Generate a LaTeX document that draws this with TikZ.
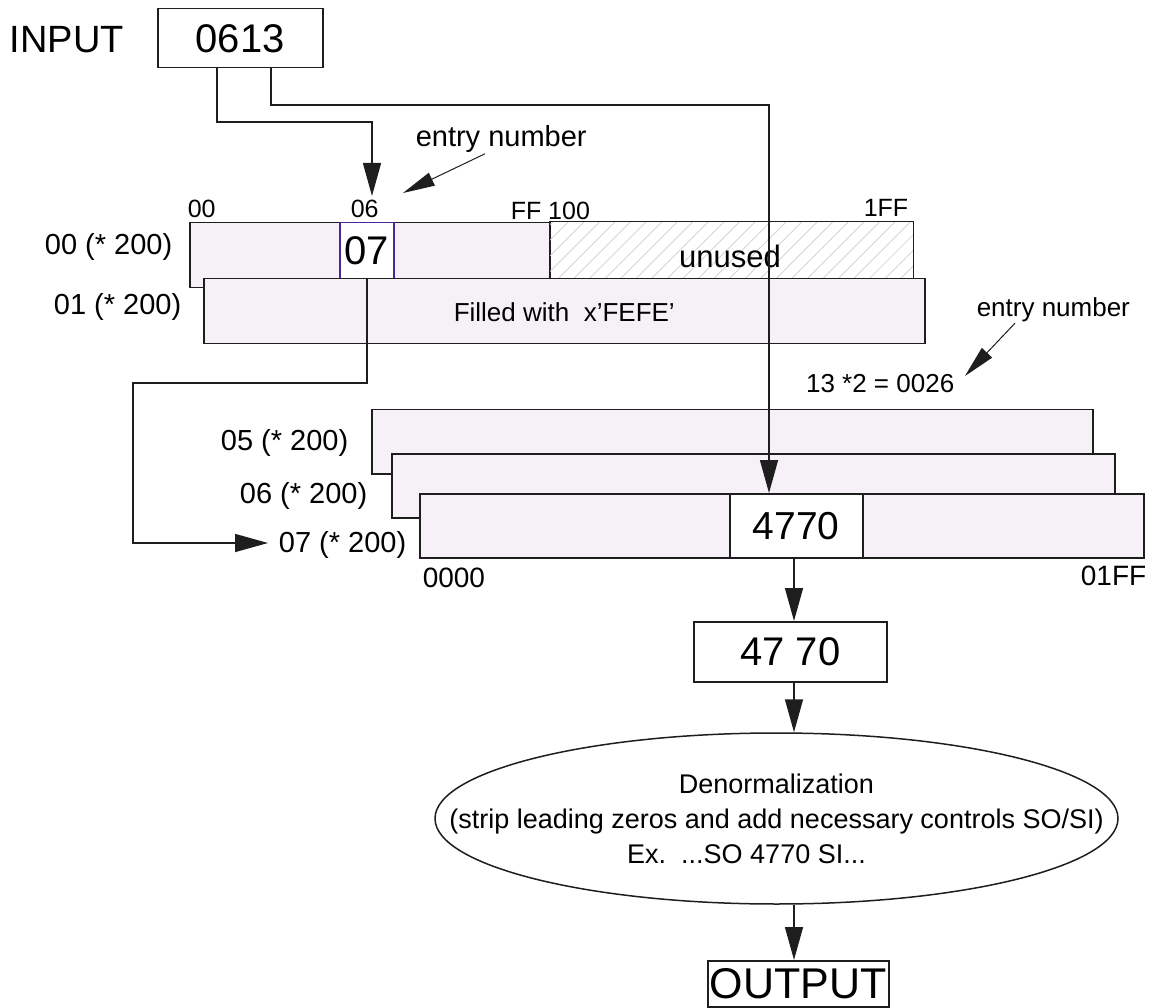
\documentclass[tikz,border=0pt]{standalone}
\usepackage{fontspec}
\setmainfont{Liberation Sans}
\usetikzlibrary{arrows.meta,shapes.geometric,patterns.meta}
\definecolor{tblfill}{RGB}{246,241,246}
\definecolor{cellpurple}{RGB}{72,40,150}
\definecolor{hatch}{RGB}{205,205,205}
\definecolor{edge}{RGB}{30,30,30}
\newcommand\pxfont[1]{\fontsize{#1}{#1}\selectfont}

\begin{document}
\begin{tikzpicture}[x=1pt,y=-1pt,
  line width=1.5pt,
  tbl/.style={draw=edge, fill=tblfill, rectangle, inner sep=0pt, anchor=north west},
  box/.style={draw=edge, fill=white, rectangle, inner sep=0pt, anchor=north west},
  lbl/.style={inner sep=0pt, font=\pxfont{29}},
  sml/.style={inner sep=0pt, font=\pxfont{26}},
  arr/.style={-{Triangle[length=33pt,width=18pt]}, line width=1.5pt, draw=edge},
  earr/.style={-{Triangle[length=32pt,width=14pt]}, line width=1pt, draw=edge},
]
\useasboundingbox (0,0) rectangle (1160,1008);

% input value
\node[inner sep=0pt, font=\pxfont{38}, anchor=base west] (inlbl) at (9,53) {INPUT};
\node[box, minimum width=165pt, minimum height=59pt, font=\pxfont{40}] (in) at (157,8) {0613};

% first-level table: rows 00 and 01
\node[tbl, minimum width=360pt, minimum height=65pt] (t0) at (189,222) {};
\node[draw=edge, rectangle, inner sep=0pt, anchor=north west,
      pattern={Lines[angle=45,distance=11pt,line width=0.7pt]}, pattern color=hatch,
      minimum width=364pt, minimum height=66pt] (un) at (549,221) {};
\node[box, draw=cellpurple, minimum width=54pt, minimum height=56pt, font=\pxfont{40}] (c07) at (339,222) {07};
\node[tbl, minimum width=721pt, minimum height=65pt] (t1) at (203,278) {};
\node[inner sep=0pt, font=\pxfont{31}, anchor=base] (unl) at (730,268) {unused};
\node[sml, anchor=base west] (fill1) at (453,322) {Filled with\ \ x'FEFE'};

\node[lbl, font=\pxfont{25}, anchor=base west] (a00) at (187,218) {00};
\node[lbl, font=\pxfont{25}, anchor=base west] (a06) at (350,218) {06};
\node[lbl, font=\pxfont{25}, anchor=base west] (aff) at (510,220) {FF 100};
\node[lbl, font=\pxfont{25}, anchor=base west] (a1ff) at (863,217) {1FF};

\node[lbl, anchor=base east] (r00) at (173,255) {00 (* 200)};
\node[lbl, anchor=base east] (r01) at (182,315) {01 (* 200)};

% second-level tables: rows 05, 06, 07
\node[tbl, minimum width=721pt, minimum height=64pt] (t5) at (371,409) {};
\node[tbl, minimum width=723pt, minimum height=64pt] (t6) at (391,453) {};
\node[tbl, minimum width=724pt, minimum height=64pt] (t7) at (419,493) {};
\node[box, minimum width=133pt, minimum height=64pt, font=\pxfont{39}] (w) at (729,493) {4770};

\node[lbl, anchor=base east] (r05) at (349,450) {05 (* 200)};
\node[lbl, anchor=base east] (r06) at (368,503) {06 (* 200)};
\node[lbl, anchor=base east] (r07) at (407,552) {07 (* 200)};
\node[lbl, font=\pxfont{28}, anchor=base west] (b0) at (422,587) {0000};
\node[lbl, font=\pxfont{28}, anchor=base east] (b1) at (1147,585) {01FF};

% entry number notes
\node[lbl, anchor=base west] (en1) at (415,147) {entry number};
\node[sml, anchor=base west] (en2) at (976,317) {entry number};
\node[sml, anchor=base east] (calc) at (955,393) {13 *2 = 0026};
\coordinate (p1) at (485,0);
\coordinate (q1) at (403,193);
\coordinate (p2) at (1015,0);
\coordinate (q2) at (965,376);
\draw[earr] (en1.south -| p1) -- (q1);
\draw[earr] (en2.south -| p2) -- (q2);

% result, conversion and output
\node[box, minimum width=193pt, minimum height=60pt, font=\pxfont{40}] (h) at (693,621) {47 70};
\node[ellipse, draw=edge, minimum width=683pt, minimum height=171pt, inner sep=0pt] (den) at (776.5,818.5) {};
\node[inner sep=0pt, align=center, font=\fontsize{27}{35}\selectfont] (dentext) at (den.center)
  {Denormalization\\(strip leading zeros and add necessary controls SO/SI)\\Ex.\ \ ...SO 4770 SI...\hspace*{60pt}};
\node[box, minimum width=181pt, minimum height=46pt, font=\pxfont{43}] (out) at (707,960) {OUTPUT};

% connectors
\coordinate (s1) at (217,0);
\coordinate (k1) at (372,122);
\coordinate (e06) at (372,196);
\coordinate (s2) at (271,0);
\coordinate (k2) at (769,105);
\coordinate (k3) at (133,383);
\coordinate (e07) at (268,543);
\coordinate (col) at (794,0);

\draw[arr] (in.south -| s1) |- (k1) -- (e06);
\draw[arr] (in.south -| s2) |- (k2) -- (k2 |- w.north);
\draw[arr] (c07.south) |- (k3) |- (e07);
\draw[arr] (w.south -| col) -- (h.north -| col);
\draw[arr] (h.south -| col) -- (den.north -| col);
\draw[arr] (den.south -| col) -- (out.north -| col);
\end{tikzpicture}
\end{document}
